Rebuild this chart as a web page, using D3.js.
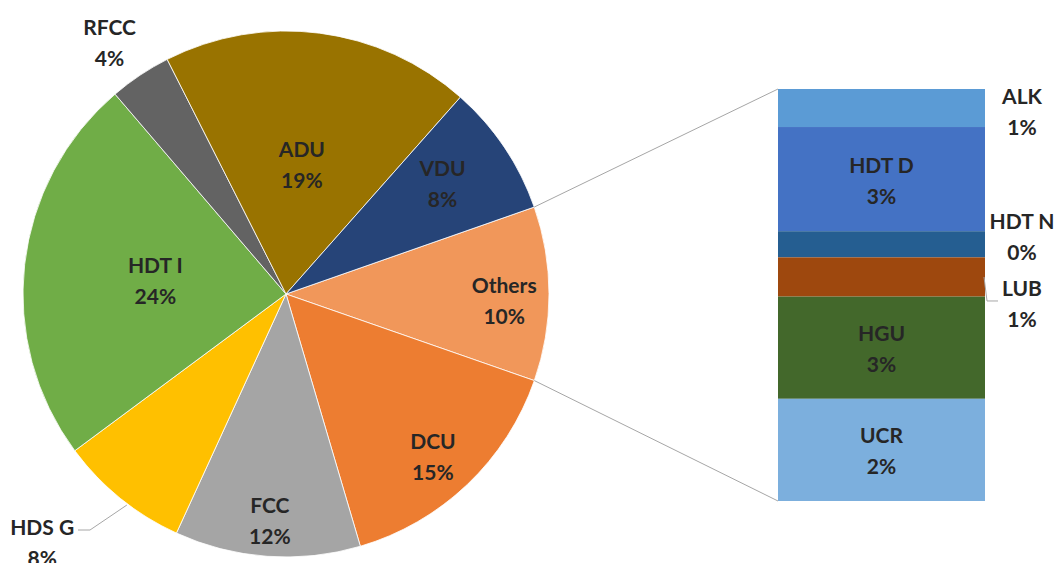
<!DOCTYPE html>
<html><head><meta charset="utf-8">
<script src="https://cdn.jsdelivr.net/npm/d3@7"></script>
<style>html,body{margin:0;padding:0;background:#fff;} svg{display:block;}</style>
</head><body>
<svg id="chart" width="1060" height="563"></svg>
<script>
// ---- data ----
const pieCategories = ["Others", "DCU", "FCC", "HDS G", "HDT I", "RFCC", "ADU", "VDU"];
const pieValues     = [10.7, 15.1, 11.4, 8.0, 23.9, 3.8, 19.0, 8.1];
const pieLabels     = ["10%", "15%", "12%", "8%", "24%", "4%", "19%", "8%"];
const pieColors     = ["#F1975A", "#ED7D31", "#A5A5A5", "#FFC000", "#70AD47", "#636363", "#997300", "#264478"];

const barCategories = ["ALK", "HDT D", "HDT N", "LUB", "HGU", "UCR"];
const barValues     = [0.96, 2.63, 0.66, 0.99, 2.58, 2.58];
const barLabels     = ["1%", "3%", "0%", "1%", "3%", "2%"];
const barColors     = ["#5B9BD5", "#4472C4", "#255E91", "#9E480E", "#43682B", "#7CAFDD"];

// ---- layout ----
const cx = 286, cy = 294, R = 263;
const deg = Math.PI / 180;
const startDeg = 70.7;
// label radius (fraction of R) and angle offset (deg) per slice
const pieLabelR   = [0.83, 0.83, 0.86, 1.32, 0.50, 1.17, 0.50, 0.73];
const pieLabelOff = [1.6, 1.3, 0, 5.6, 0, -1.3, -0.4, -1.5];
const barX0 = 778, barX1 = 985, barTop = 89, barBottom = 501;

const svg = d3.select("#chart");
const font = "Lato, 'Open Sans', sans-serif";
const fs = 21, lh = 31, base = 9;

// ---- pie ----
const pie = d3.pie().sort(null).value(d => d)
  .startAngle(startDeg * deg).endAngle(startDeg * deg + 2 * Math.PI);
const arcs = pie(pieValues);
const arc = d3.arc().innerRadius(0).outerRadius(R);
const g = svg.append("g").attr("transform", `translate(${cx},${cy})`);
g.selectAll("path").data(arcs).join("path")
  .attr("d", arc)
  .attr("fill", (d, i) => pieColors[i])
  .attr("stroke", "#fff").attr("stroke-width", 0.8);

function polar(a, r) { return [Math.sin(a) * r, -Math.cos(a) * r]; }

// leader for HDS G
const hdsIdx = pieCategories.indexOf("HDS G");
{
  const a = (arcs[hdsIdx].startAngle + arcs[hdsIdx].endAngle) / 2;
  const p0 = polar(a - 2 * deg, R * 1.005);
  g.append("polyline")
    .attr("points", `${p0[0]},${p0[1]} ${90 - cx},${530 - cy} ${78 - cx},${530 - cy}`)
    .attr("fill", "none").attr("stroke", "#A6A6A6").attr("stroke-width", 1);
}

arcs.forEach((d, i) => {
  const a = (d.startAngle + d.endAngle) / 2 + pieLabelOff[i] * deg;
  const [x, y] = polar(a, R * pieLabelR[i]);
  const t = g.append("text").attr("text-anchor", "middle")
    .attr("font-family", font).attr("font-weight", 700).attr("font-size", fs)
    .attr("fill", "#262626");
  t.append("tspan").attr("x", x).attr("y", y - lh / 2 + base).text(pieCategories[i]);
  t.append("tspan").attr("x", x).attr("y", y + lh / 2 + base).text(pieLabels[i]);
});

// ---- bar ----
const total = d3.sum(barValues);
const yScale = d3.scaleLinear().domain([0, total]).range([barTop, barBottom]);
let acc = 0;
const segs = barValues.map((v, i) => { const s = { i, y0: acc, y1: acc + v }; acc += v; return s; });
svg.selectAll("rect.seg").data(segs).join("rect").attr("class", "seg")
  .attr("x", barX0).attr("width", barX1 - barX0)
  .attr("y", d => yScale(d.y0)).attr("height", d => yScale(d.y1) - yScale(d.y0))
  .attr("fill", d => barColors[d.i]);

// connector lines
const othersArc = arcs[0];
const pTop = polar(othersArc.startAngle, R);
const pBot = polar(othersArc.endAngle, R);
svg.append("line").attr("x1", cx + pTop[0]).attr("y1", cy + pTop[1])
  .attr("x2", barX0).attr("y2", yScale(0)).attr("stroke", "#A6A6A6").attr("stroke-width", 1);
svg.append("line").attr("x1", cx + pBot[0]).attr("y1", cy + pBot[1])
  .attr("x2", barX0).attr("y2", yScale(total)).attr("stroke", "#A6A6A6").attr("stroke-width", 1);

// bar labels: big segments inside, small ones outside on the right
const outsideLabelY = { "ALK": 110, "HDT N": 235, "LUB": 302 };
segs.forEach(s => {
  const name = barCategories[s.i];
  let x, y;
  if (outsideLabelY[name] !== undefined) { x = 1022; y = outsideLabelY[name]; }
  else { x = (barX0 + barX1) / 2; y = (yScale(s.y0) + yScale(s.y1)) / 2; }
  const t = svg.append("text").attr("text-anchor", "middle")
    .attr("font-family", font).attr("font-weight", 700).attr("font-size", fs)
    .attr("fill", "#262626");
  t.append("tspan").attr("x", x).attr("y", y - lh / 2 + base).text(name);
  t.append("tspan").attr("x", x).attr("y", y + lh / 2 + base).text(barLabels[s.i]);
});
// LUB leader
{
  const lub = segs[barCategories.indexOf("LUB")];
  const ym = (yScale(lub.y0) + yScale(lub.y1)) / 2;
  svg.append("polyline")
    .attr("points", `${barX1 - 1},${ym} ${barX1 + 2},${ym + 24} ${barX1 + 13},${ym + 24}`)
    .attr("fill", "none").attr("stroke", "#A6A6A6").attr("stroke-width", 1);
}
</script>
</body></html>
